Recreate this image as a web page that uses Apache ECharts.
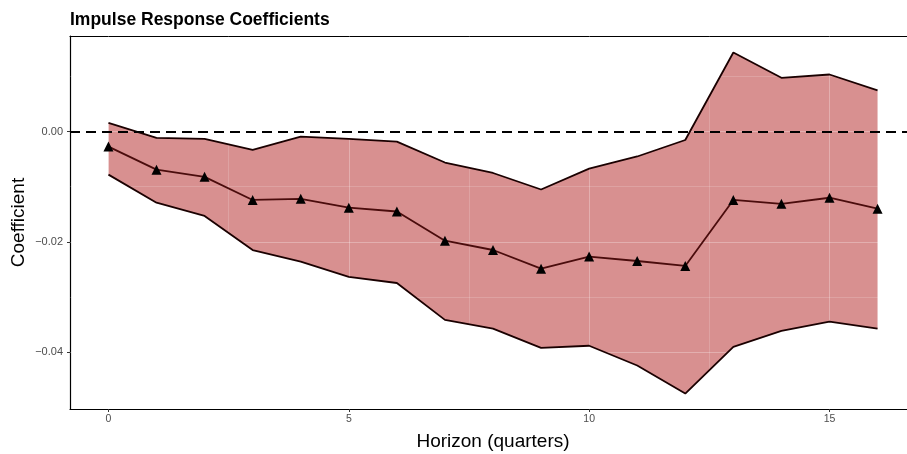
<!DOCTYPE html>
<html><head><meta charset="utf-8">
<script src="https://cdn.jsdelivr.net/npm/echarts@6/dist/echarts.min.js"></script>
<style>html,body{margin:0;padding:0;background:#fff}#c{width:907px;height:454px}</style>
</head><body><div id="c"></div>
<script>
const horizon = [0,1,2,3,4,5,6,7,8,9,10,11,12,13,14,15,16];
const coef  = [-0.0027,-0.0069,-0.0082,-0.0124,-0.0122,-0.0138,-0.0145,-0.0198,-0.0215,-0.0249,-0.0227,-0.0235,-0.0244,-0.0124,-0.0131,-0.0120,-0.0140];
const upper = [0.0016,-0.0011,-0.0013,-0.0033,-0.0009,-0.0013,-0.0018,-0.0056,-0.0075,-0.0105,-0.0067,-0.0045,-0.0015,0.0144,0.0098,0.0104,0.0075];
const lower = [-0.0078,-0.0129,-0.0153,-0.0215,-0.0236,-0.0264,-0.0275,-0.0342,-0.0358,-0.0393,-0.0389,-0.0425,-0.0476,-0.0391,-0.0362,-0.0345,-0.0358];
const xTicks = [0,5,10,15];
const yTicks = [-0.04,-0.02,0.00];
const xMinorGrid = [2.5,7.5,12.5];
const yMinorGrid = [-0.03,-0.01,0.01];

const pair = (a) => horizon.map((h,i)=>[h,a[i]]);
const fmtY = v => (v<0?'\u2212':'') + Math.abs(v).toFixed(2);

const gridLines = [];
xTicks.forEach(v=>gridLines.push({xAxis:v, lineStyle:{width:1}}));
xMinorGrid.forEach(v=>gridLines.push({xAxis:v, lineStyle:{width:0.6}}));
yTicks.forEach(v=>gridLines.push({yAxis:v, lineStyle:{width:1}}));
yMinorGrid.forEach(v=>gridLines.push({yAxis:v, lineStyle:{width:0.6}}));

const chart = echarts.init(document.getElementById('c'), null, {renderer:'canvas'});
chart.setOption({
  animation:false,
  backgroundColor:'#fff',
  title:{text:'Impulse Response Coefficients', left:65, top:6, padding:5,
    textStyle:{fontFamily:'Liberation Sans', fontWeight:'bold', fontSize:17.5, color:'#000'}},
  grid:{left:70, right:-9, top:36, bottom:45, containLabel:false, outerBoundsMode:'none'},
  xAxis:[{
    type:'value', min:-0.8, max:16.8,
    name:'Horizon (quarters)', nameLocation:'middle', nameGap:23,
    nameTextStyle:{fontFamily:'Liberation Sans', fontSize:19, color:'#000'},
    axisLine:{show:true, onZero:false, lineStyle:{color:'#000', width:1.2}},
    axisTick:{show:true, length:3, customValues:xTicks, lineStyle:{color:'#333'}},
    axisLabel:{customValues:xTicks, color:'#4d4d4d', fontSize:10.5, fontFamily:'Liberation Sans', margin:5},
    splitLine:{show:false}
  },{
    type:'value', position:'top', min:-0.8, max:16.8,
    axisLine:{show:true, onZero:false, lineStyle:{color:'#000', width:1.2}},
    axisTick:{show:false}, axisLabel:{show:false}, splitLine:{show:false}
  }],
  yAxis:{
    type:'value', min:-0.0504, max:0.0174,
    name:'Coefficient', nameLocation:'middle', nameGap:42, nameRotate:90, nameMoveOverlap:false,
    nameTextStyle:{fontFamily:'Liberation Sans', fontSize:19, color:'#000'},
    axisLine:{show:true, onZero:false, lineStyle:{color:'#000', width:1.2}},
    axisTick:{show:true, length:3, customValues:yTicks, lineStyle:{color:'#333'}},
    axisLabel:{customValues:yTicks, formatter:fmtY, color:'#4d4d4d', fontSize:11, fontFamily:'Liberation Sans', margin:7},
    splitLine:{show:false}
  },
  series:[
    {type:'custom', name:'band', data:[[0,0]], z:2, silent:true, clip:true,
     renderItem:function(params, api){
       const pts = [];
       for (let i=0;i<horizon.length;i++) pts.push(api.coord([horizon[i], upper[i]]));
       for (let i=horizon.length-1;i>=0;i--) pts.push(api.coord([horizon[i], lower[i]]));
       return {type:'polygon', shape:{points:pts}, style:{fill:'rgba(178,34,34,0.5)'}};
     },
     markLine:{silent:true, symbol:'none', label:{show:false}, z:3,
       lineStyle:{color:'rgba(255,255,255,0.28)', type:'solid'}, data:gridLines}},
    {type:'line', name:'upper', data:pair(upper), symbol:'none',
     lineStyle:{color:'#1a0000', width:1.8}, z:4},
    {type:'line', name:'lower', data:pair(lower), symbol:'none',
     lineStyle:{color:'#1a0000', width:1.8}, z:4},
    {type:'line', name:'coef', data:pair(coef), symbol:'triangle', symbolSize:10, showSymbol:true,
     itemStyle:{color:'#000'}, lineStyle:{color:'#4a0c0c', width:1.8}, z:5,
     markLine:{silent:true, symbol:'none', label:{show:false},
       lineStyle:{color:'#000', width:2, type:[10,6]}, data:[{yAxis:0}]}}
  ]
});
</script></body></html>
